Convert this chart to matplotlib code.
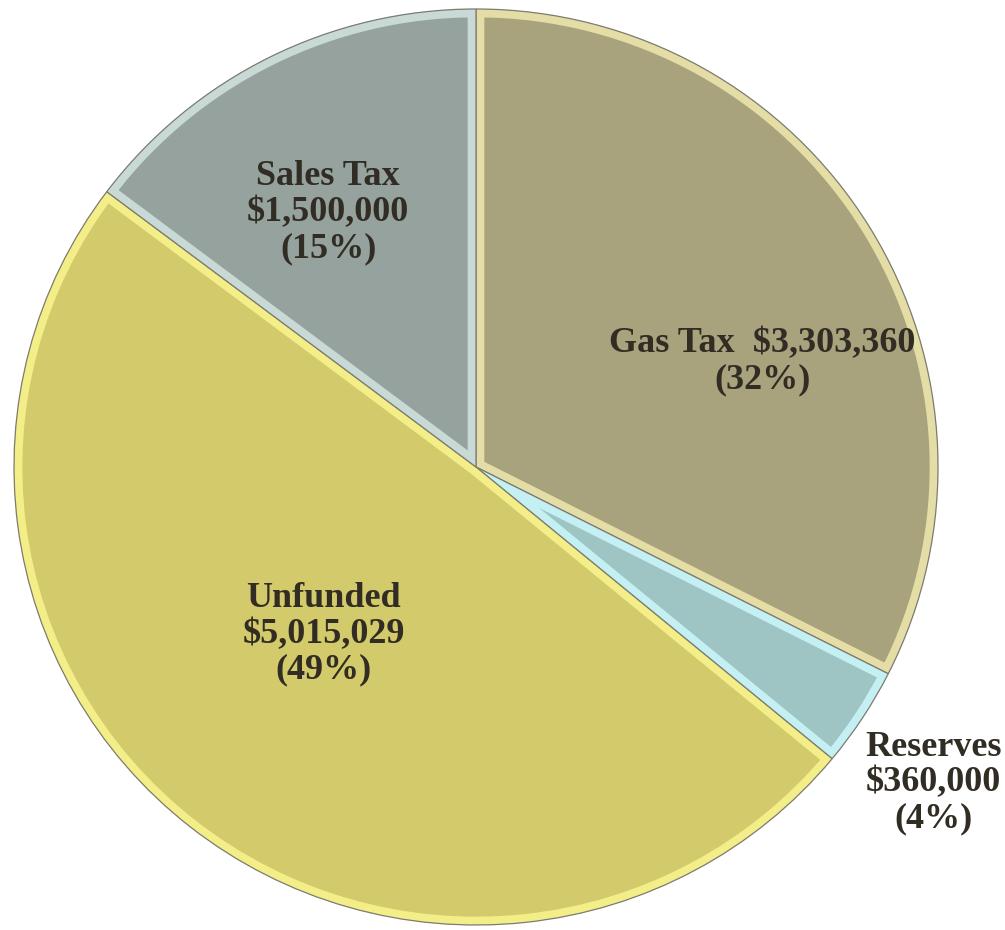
import matplotlib.pyplot as plt
from matplotlib.patches import Wedge

# funding sources
names = ['Gas Tax', 'Reserves', 'Unfunded', 'Sales Tax']
amounts = [3303360, 360000, 5015029, 1500000]
pcts = [32, 4, 49, 15]

body = ['#A8A37D', '#9EC4C4', '#D3CA6C', '#95A29D']
light = ['#E4DEA6', '#C4F0F4', '#F4EE88', '#C9DAD6']

# label offsets from the pie centre, in radius units
lab_dx = [0.62, 0.99, -0.33, -0.32]
lab_dy = [0.23, -0.69, -0.365, 0.555]

fig = plt.figure(figsize=(10.05, 9.3), dpi=100)
ax = fig.add_axes([0, 0, 1, 1])

wedges, _ = ax.pie(amounts, colors=body, startangle=90, counterclock=False,
                   radius=1, wedgeprops=dict(edgecolor='none'))

for w, lc in zip(wedges, light):
    # light bevel band along the inside of each slice
    band = Wedge(w.center, w.r, w.theta1, w.theta2, facecolor='none',
                 edgecolor=lc, linewidth=12)
    ax.add_patch(band)
    band.set_clip_path(w)
    ax.add_patch(Wedge(w.center, w.r, w.theta1, w.theta2, facecolor='none',
                       edgecolor='#7C7C70', linewidth=0.9))

for i in range(len(names)):
    if names[i] == 'Gas Tax':
        txt = f'{names[i]}  ${amounts[i]:,}\n({pcts[i]}%)'
    else:
        txt = f'{names[i]}\n${amounts[i]:,}\n({pcts[i]}%)'
    ax.text(lab_dx[i], lab_dy[i], txt, ha='center', va='center',
            fontsize=26, fontweight='bold', family='Liberation Serif',
            color='#322D24', linespacing=1.12)

ax.set_aspect('auto')
ax.set_xlim(-476 / 462, (1005 - 476) / 462)
ax.set_ylim(-(930 - 467) / 458, 467 / 458)
ax.axis('off')

fig.savefig('out.png', dpi=100, facecolor='white')
